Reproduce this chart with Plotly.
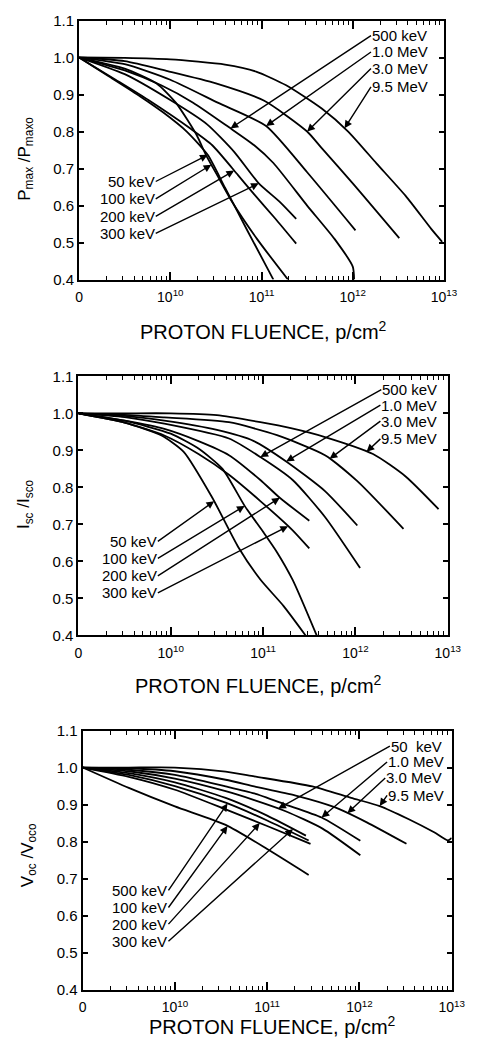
import numpy as np
import plotly.graph_objects as go

# ---------------- DATA ----------------
# x values are log10(proton fluence, p/cm^2); 9 is the axis origin labelled "0"
# Panel 1 : Pmax / Pmaxo
P_95MeV_logF = [9, 9.5, 10, 10.6, 10.94, 11.27, 11.66, 11.95, 12.26, 12.58, 12.86, 12.98]
P_95MeV_val  = [1.0, 0.999, 0.995, 0.981, 0.962, 0.925, 0.862, 0.80, 0.714, 0.626, 0.537, 0.502]
P_30MeV_logF = [9, 9.5, 9.97, 10.5, 11.03, 11.5, 11.66, 12.0, 12.51]
P_30MeV_val  = [1.0, 0.99, 0.963, 0.93, 0.883, 0.80, 0.755, 0.66, 0.512]
P_10MeV_logF = [9, 9.5, 10, 10.52, 11.05, 11.5, 12.03]
P_10MeV_val  = [1.0, 0.982, 0.94, 0.878, 0.815, 0.69, 0.533]
P_500keV_logF = [9, 9.5, 9.9, 10.25, 10.64, 10.92, 11.13, 11.5, 11.8, 12.0, 12.015]
P_500keV_val  = [1.0, 0.965, 0.925, 0.878, 0.812, 0.763, 0.715, 0.60, 0.51, 0.435, 0.40]
P_300keV_logF = [9, 9.5, 10.0, 10.4, 10.7, 10.97, 11.2, 11.38]
P_300keV_val  = [1.0, 0.955, 0.885, 0.82, 0.745, 0.66, 0.61, 0.564]
P_200keV_logF = [9, 9.4, 9.76, 10.22, 10.46, 10.74, 10.92, 11.15, 11.38]
P_200keV_val  = [1.0, 0.94, 0.885, 0.808, 0.763, 0.683, 0.63, 0.565, 0.497]
P_100keV_logF = [9, 9.5, 9.85, 10.06, 10.29, 10.39, 10.53, 10.67, 10.95, 11.29]
P_100keV_val  = [1.0, 0.97, 0.93, 0.878, 0.79, 0.737, 0.675, 0.613, 0.51, 0.40]
P_50keV_logF = [9, 9.32, 9.67, 9.92, 10.18, 10.41, 10.6, 10.85, 11.13]
P_50keV_val  = [1.0, 0.95, 0.895, 0.852, 0.80, 0.737, 0.648, 0.53, 0.40]

# Panel 2 : Isc / Isco
I_95MeV_logF = [9, 9.5, 10, 10.5, 10.97, 11.3, 11.67, 12.19, 12.54, 12.9]
I_95MeV_val  = [1.0, 1.0, 1.0, 0.995, 0.976, 0.96, 0.936, 0.89, 0.83, 0.741]
I_30MeV_logF = [9, 9.5, 9.93, 10.63, 11.15, 11.67, 12.02, 12.52]
I_30MeV_val  = [1.0, 0.996, 0.989, 0.976, 0.941, 0.887, 0.817, 0.688]
I_10MeV_logF = [9, 9.5, 9.93, 10.5, 10.9, 11.25, 11.67, 12.02]
I_10MeV_val  = [1.0, 0.993, 0.98, 0.955, 0.925, 0.87, 0.79, 0.697]
I_500keV_logF = [9, 9.5, 9.93, 10.63, 10.97, 11.32, 11.67, 12.05]
I_500keV_val  = [1.0, 0.99, 0.972, 0.932, 0.882, 0.82, 0.72, 0.582]
I_300keV_logF = [9, 9.5, 9.93, 10.3, 10.63, 10.97, 11.32, 11.5]
I_300keV_val  = [1.0, 0.975, 0.94, 0.89, 0.834, 0.763, 0.684, 0.635]
I_200keV_logF = [9, 9.5, 9.93, 10.3, 10.63, 10.97, 11.18, 11.5]
I_200keV_val  = [1.0, 0.98, 0.958, 0.925, 0.887, 0.82, 0.772, 0.71]
I_100keV_logF = [9, 9.5, 10, 10.3, 10.56, 10.8, 11.0, 11.15, 11.32, 11.58]
I_100keV_val  = [1.0, 0.98, 0.945, 0.905, 0.85, 0.75, 0.68, 0.625, 0.55, 0.40]
I_50keV_logF = [9, 9.5, 9.9, 10.14, 10.45, 10.73, 10.97, 11.22, 11.46]
I_50keV_val  = [1.0, 0.975, 0.94, 0.896, 0.772, 0.639, 0.551, 0.48, 0.40]

# Panel 3 : Voc / Voco
V_95MeV_logF = [9, 9.5, 10, 10.55, 10.86, 11.49, 11.91, 12.22, 12.53, 12.81, 12.96, 13.0]
V_95MeV_val  = [1.0, 1.0, 1.0, 0.989, 0.976, 0.949, 0.918, 0.896, 0.861, 0.825, 0.803, 0.81]
V_30MeV_logF = [9, 9.5, 10, 10.55, 10.86, 11.3, 11.73, 12.08, 12.51]
V_30MeV_val  = [1.0, 0.998, 0.99, 0.967, 0.949, 0.925, 0.893, 0.852, 0.794]
V_10MeV_logF = [9, 9.5, 10, 10.55, 10.86, 11.2, 11.59, 12.01]
V_10MeV_val  = [1.0, 0.994, 0.98, 0.949, 0.93, 0.90, 0.865, 0.802]
V_50keV_logF = [9, 9.5, 10, 10.55, 10.86, 11.2, 11.6, 12.01]
V_50keV_val  = [1.0, 0.99, 0.97, 0.936, 0.912, 0.882, 0.835, 0.763]
V_500keV_logF = [9, 9.5, 10, 10.55, 11.0, 11.45]
V_500keV_val  = [1.0, 0.98, 0.95, 0.905, 0.857, 0.803]
V_300keV_logF = [9, 9.5, 10, 10.55, 11.0, 11.42]
V_300keV_val  = [1.0, 0.985, 0.96, 0.918, 0.87, 0.816]
V_200keV_logF = [9, 9.5, 10, 10.55, 11.0, 11.47]
V_200keV_val  = [1.0, 0.975, 0.94, 0.887, 0.842, 0.794]
V_100keV_logF = [9, 9.5, 10, 10.55, 11.0, 11.45]
V_100keV_val  = [1.0, 0.945, 0.895, 0.845, 0.78, 0.71]

# tick labels
x_tick_exp = [9, 10, 11, 12, 13]
x_tick_text = ["0", "10<sup>10</sup>", "10<sup>11</sup>", "10<sup>12</sup>", "10<sup>13</sup>"]
y_ticks = [0.4, 0.5, 0.6, 0.7, 0.8, 0.9, 1.0, 1.1]
y_titles = ["P<sub>max</sub> /P<sub>maxo</sub>", "I<sub>sc</sub> /I<sub>sco</sub>", "V<sub>oc</sub> /V<sub>oco</sub>"]
x_title = "PROTON FLUENCE, p/cm<sup>2</sup>"

# ---------------- LAYOUT / STYLE ----------------
W, H = 483, 1057
FONT = "Liberation Sans, Arial, Helvetica, sans-serif"

panels = [
    dict(series={"9.5 MeV": (P_95MeV_logF, P_95MeV_val), "3.0 MeV": (P_30MeV_logF, P_30MeV_val),
                 "1.0 MeV": (P_10MeV_logF, P_10MeV_val), "500 keV": (P_500keV_logF, P_500keV_val),
                 "300 keV": (P_300keV_logF, P_300keV_val), "200 keV": (P_200keV_logF, P_200keV_val),
                 "100 keV": (P_100keV_logF, P_100keV_val), "50 keV": (P_50keV_logF, P_50keV_val)},
         px=(78, 457), py=(11.7, 275),
         # label text, series, arrow-tail x, arrow-tail y, text side, arrow-head x
         labels=[("500 keV", "500 keV", 12.20, 1.059, "left", 10.66),
                 ("1.0 MeV", "1.0 MeV", 12.20, 1.015, "left", 11.05),
                 ("3.0 MeV", "3.0 MeV", 12.20, 0.970, "left", 11.5),
                 ("9.5 MeV", "9.5 MeV", 12.20, 0.921, "left", 11.91),
                 ("50 keV", "50 keV", 9.84, 0.665, "right", 10.41),
                 ("100 keV", "100 keV", 9.84, 0.618, "right", 10.45),
                 ("200 keV", "200 keV", 9.84, 0.571, "right", 10.70),
                 ("300 keV", "300 keV", 9.84, 0.525, "right", 10.97)],
         ytitle_px=(22, 152), xtitle_px=(270, 327)),
    dict(series={"9.5 MeV": (I_95MeV_logF, I_95MeV_val), "3.0 MeV": (I_30MeV_logF, I_30MeV_val),
                 "1.0 MeV": (I_10MeV_logF, I_10MeV_val), "500 keV": (I_500keV_logF, I_500keV_val),
                 "300 keV": (I_300keV_logF, I_300keV_val), "200 keV": (I_200keV_logF, I_200keV_val),
                 "100 keV": (I_100keV_logF, I_100keV_val), "50 keV": (I_50keV_logF, I_50keV_val)},
         px=(77.3, 461), py=(373.3, 636.7),
         labels=[("500 keV", "500 keV", 12.28, 1.064, "left", 10.97),
                 ("1.0 MeV", "1.0 MeV", 12.27, 1.022, "left", 11.25),
                 ("3.0 MeV", "3.0 MeV", 12.27, 0.979, "left", 11.72),
                 ("9.5 MeV", "9.5 MeV", 12.27, 0.931, "left", 12.12),
                 ("50 keV", "50 keV", 9.86, 0.654, "right", 10.47),
                 ("100 keV", "100 keV", 9.86, 0.608, "right", 10.80),
                 ("200 keV", "200 keV", 9.86, 0.561, "right", 11.18),
                 ("300 keV", "300 keV", 9.86, 0.515, "right", 11.27)],
         ytitle_px=(22, 503), xtitle_px=(264, 687)),
    dict(series={"9.5 MeV": (V_95MeV_logF, V_95MeV_val), "3.0 MeV": (V_30MeV_logF, V_30MeV_val),
                 "1.0 MeV": (V_10MeV_logF, V_10MeV_val), "50 keV": (V_50keV_logF, V_50keV_val),
                 "500 keV": (V_500keV_logF, V_500keV_val), "300 keV": (V_300keV_logF, V_300keV_val),
                 "200 keV": (V_200keV_logF, V_200keV_val), "100 keV": (V_100keV_logF, V_100keV_val)},
         px=(81.7, 465), py=(733.3, 996.7),
         labels=[("50  keV", "50 keV", 12.33, 1.058, "left", 11.12),
                 ("1.0 MeV", "1.0 MeV", 12.30, 1.015, "left", 11.59),
                 ("3.0 MeV", "3.0 MeV", 12.28, 0.972, "left", 11.87),
                 ("9.5 MeV", "9.5 MeV", 12.30, 0.925, "left", 12.22),
                 ("500 keV", "500 keV", 9.93, 0.668, "right", 10.57),
                 ("100 keV", "100 keV", 9.93, 0.622, "right", 10.57),
                 ("200 keV", "200 keV", 9.93, 0.577, "right", 10.92),
                 ("300 keV", "300 keV", 9.93, 0.531, "right", 11.28)],
         ytitle_px=(26, 860), xtitle_px=(279, 1033)),
]

fig = go.Figure()
annotations = []
minor_vals = [k * 10.0 ** d for d in range(9, 13) for k in range(2, 10)]

for i, p in enumerate(panels, start=1):
    sfx = "" if i == 1 else str(i)
    xref, yref = "x" + sfx, "y" + sfx
    for name, (lf, val) in p["series"].items():
        fig.add_trace(go.Scatter(
            x=10.0 ** np.array(lf), y=val, mode="lines", name=name,
            line=dict(color="black", width=1.8, shape="spline", smoothing=0.6),
            xaxis=xref, yaxis=yref, showlegend=False, hoverinfo="skip"))
    xdom = [p["px"][0] / W, p["px"][1] / W]
    ydom = [1 - p["py"][1] / H, 1 - p["py"][0] / H]
    axis_common = dict(showline=True, linewidth=2, linecolor="black", mirror="allticks",
                       ticks="inside", tickcolor="black", showgrid=False, zeroline=False)
    fig.update_layout(**{
        "xaxis" + sfx: dict(axis_common, type="log", range=[9, 13], domain=xdom, anchor=yref,
                            tickmode="array", tickvals=[10.0 ** e for e in x_tick_exp],
                            ticktext=x_tick_text, ticklen=8, tickwidth=1.5,
                            ticklabelstandoff=4,
                            tickfont=dict(family=FONT, size=14, color="black"),
                            minor=dict(tickmode="array", tickvals=minor_vals, ticks="inside",
                                       ticklen=4, tickwidth=1.2, tickcolor="black", showgrid=False)),
        "yaxis" + sfx: dict(axis_common, range=[0.4, 1.1], domain=ydom, anchor=xref,
                            tickmode="array", tickvals=y_ticks,
                            tickfont=dict(family=FONT, size=15, color="black"),
                            ticktext=["%.1f" % v for v in y_ticks], ticklen=5, tickwidth=1.5),
    })
    # curve labels with arrows pointing onto the curves
    for text, sname, tx, ty, side, hx in p["labels"]:
        lf, val = p["series"][sname]
        hy = float(np.interp(hx, lf, val))
        annotations.append(dict(x=hx, y=hy, ax=tx, ay=ty, xref=xref, yref=yref,
                                axref=xref, ayref=yref, text=text, showarrow=True,
                                xanchor=side, yanchor="middle", borderpad=0,
                                arrowhead=2, arrowsize=1.1, arrowwidth=1.4,
                                arrowcolor="black", standoff=0,
                                font=dict(family=FONT, size=15, color="black")))
    # axis titles
    annotations.append(dict(x=p["ytitle_px"][0] / W, y=1 - p["ytitle_px"][1] / H,
                            xref="paper", yref="paper", text=y_titles[i - 1], textangle=-90,
                            showarrow=False, xanchor="center", yanchor="middle",
                            font=dict(family=FONT, size=17, color="black")))
    annotations.append(dict(x=p["xtitle_px"][0] / W, y=1 - p["xtitle_px"][1] / H,
                            xref="paper", yref="paper", text=x_title, showarrow=False,
                            xanchor="center", yanchor="middle",
                            font=dict(family=FONT, size=20, color="black")))

fig.update_layout(width=W, height=H, autosize=False, margin=dict(l=0, r=0, t=0, b=0),
                  paper_bgcolor="white", plot_bgcolor="white", annotations=annotations,
                  font=dict(family=FONT, color="black"))

fig.write_html("out.html")
